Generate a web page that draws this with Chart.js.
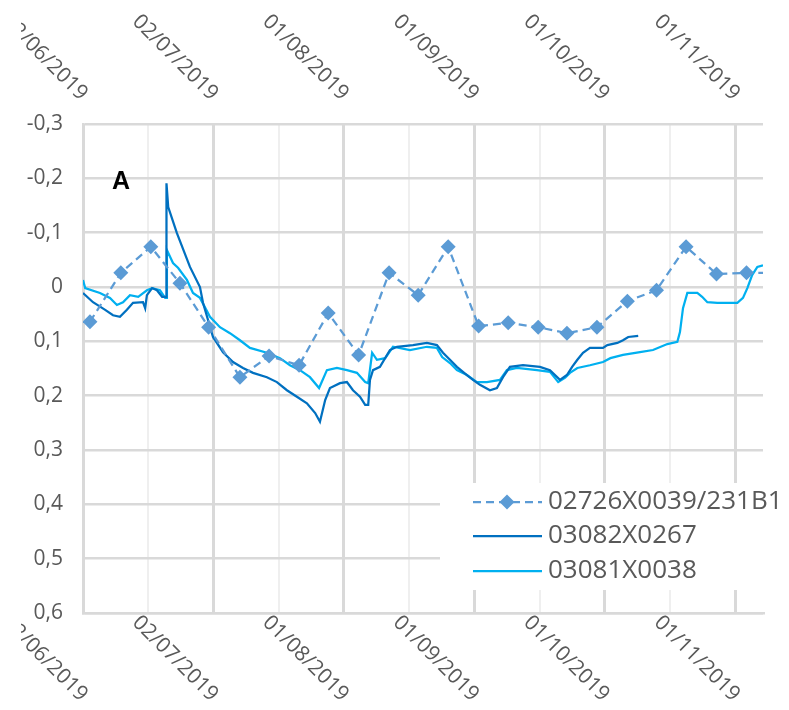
<!DOCTYPE html>
<html>
<head>
<meta charset="utf-8">
<script src="https://cdn.jsdelivr.net/npm/chart.js@4.4.1/dist/chart.umd.min.js"></script>
<style>
  html, body { margin: 0; padding: 0; background: #fff; }
  #wrap { width: 789px; height: 710px; position: relative; }
</style>
</head>
<body>
<div id="wrap"><canvas id="c"></canvas></div>
<script>
// x values are days counted from 02/06/2019
const xTickDays = [0, 30, 60, 90, 120, 150];
const xTickLabels = ['02/06/2019', '02/07/2019', '01/08/2019', '01/09/2019', '01/10/2019', '01/11/2019'];
const xGridDays = [0, 15, 30, 45, 60, 75, 90, 105, 120, 135, 150];
const xMaxDay = 156.4;
const yTicks = [-0.3, -0.2, -0.1, 0, 0.1, 0.2, 0.3, 0.4, 0.5, 0.6];

const seriesNames = ['02726X0039/231B1', '03082X0267', '03081X0038'];
const seriesColors = ['#5B9BD5', '#0070C0', '#00B0F0'];

// 02726X0039/231B1 — periodic manual readings
const w231Days = [1.6, 8.7, 15.6, 22.3, 28.9, 36.1, 42.8, 49.7, 56.4, 63.4, 70.4, 77.1,
  84.0, 91.0, 97.8, 104.7, 111.3, 118.2, 125.2, 131.9, 138.7, 145.7, 152.6, 159.5];
const w231Values = [0.064, -0.026, -0.074, -0.007, 0.074, 0.166, 0.127, 0.144, 0.048, 0.125, -0.026, 0.015,
  -0.074, 0.072, 0.066, 0.074, 0.085, 0.074, 0.026, 0.006, -0.074, -0.024, -0.026, -0.026];

// 03082X0267 — continuous record
const w0267Days = [0, 2.3, 5.1, 6.9, 8.5, 10.1, 11.5, 13.8, 14.3, 14.7, 15.9, 17.0, 18.2, 19.1,
  19.2, 19.6, 21.6, 24.6, 26.9, 27.6, 29.9, 32.2, 34.5, 36.8, 39.1, 42.3, 44.6, 46.9, 49.2,
  51.5, 53.4, 54.5, 55.7, 56.8, 59.1, 60.7, 62.1, 63.7, 64.9, 65.6, 66.0, 66.7, 68.3, 70.6,
  72.2, 75.9, 79.1, 81.4, 82.8, 84.4, 86.0, 88.3, 89.7, 91.3, 93.6, 95.2, 96.6, 98.2, 101.2,
  105.1, 107.4, 109.7, 111.3, 112.5, 113.7, 115.0, 116.6, 119.6, 120.6, 122.9, 124.2, 125.4, 127.7];
const w0267Values = [0.011, 0.028, 0.042, 0.052, 0.055, 0.042, 0.029, 0.028, 0.039, 0.015, 0.002, 0.006, 0.018, 0.018,
  -0.191, -0.147, -0.099, -0.037, 0.000, 0.029, 0.092, 0.120, 0.138, 0.149, 0.158, 0.166, 0.175, 0.190, 0.202,
  0.214, 0.232, 0.248, 0.208, 0.186, 0.177, 0.175, 0.190, 0.202, 0.217, 0.217, 0.171, 0.153, 0.147, 0.116,
  0.110, 0.107, 0.103, 0.107, 0.121, 0.134, 0.147, 0.162, 0.171, 0.180, 0.190, 0.186, 0.166, 0.147, 0.144,
  0.147, 0.153, 0.171, 0.162, 0.147, 0.134, 0.121, 0.112, 0.112, 0.107, 0.103, 0.098, 0.092, 0.090];

// 03081X0038 — continuous record
const w0038Days = [0, 0.5, 3.9, 6.2, 7.8, 9.2, 10.8, 12.7, 14.7, 15.9, 17.7, 18.9, 19.2, 19.3,
  20.7, 21.9, 23.9, 25.3, 26.9, 29.2, 31.5, 33.8, 36.1, 38.4, 42.3, 45.3, 47.6, 49.9, 52.2,
  54.3, 56.1, 58.4, 60.7, 63.0, 64.9, 65.6, 66.5, 67.6, 69.5, 71.3, 75.2, 79.1, 81.4, 82.6,
  84.4, 86.0, 88.3, 90.6, 92.9, 95.9, 97.5, 99.8, 104.4, 107.4, 109.3, 110.9, 112.0, 113.7,
  116.6, 119.6, 121.3, 124.2, 128.1, 131.1, 134.4, 136.7, 137.3, 138.0, 139.0, 141.3, 142.4,
  143.6, 145.9, 150.5, 151.8, 152.8, 153.9, 155.1, 156.4];
const w0038Values = [-0.013, 0.002, 0.011, 0.020, 0.033, 0.028, 0.015, 0.018, 0.006, 0.002, 0.006, 0.020, 0.020, -0.068,
  -0.044, -0.035, -0.013, 0.011, 0.020, 0.055, 0.074, 0.085, 0.098, 0.112, 0.121, 0.131, 0.144, 0.153, 0.166,
  0.186, 0.153, 0.149, 0.153, 0.158, 0.175, 0.177, 0.121, 0.134, 0.131, 0.110, 0.116, 0.110, 0.112, 0.129,
  0.140, 0.153, 0.162, 0.175, 0.175, 0.171, 0.153, 0.149, 0.153, 0.156, 0.175, 0.167, 0.158, 0.149,
  0.144, 0.138, 0.131, 0.125, 0.120, 0.116, 0.105, 0.101, 0.083, 0.039, 0.011, 0.011, 0.018,
  0.028, 0.029, 0.029, 0.020, 0.002, -0.022, -0.037, -0.040];

const toPoints = (days, values) => days.map((d, i) => ({ x: d, y: values[i] }));

const TEXT_GREY = '#595959';
const GRID = '#D9D9D9';

// Rotated date labels on both edges, the panel letter and the legend box
const decorations = {
  id: 'decorations',
  afterDraw(chart) {
    const { ctx, chartArea, scales } = chart;
    const x = scales.x;

    ctx.save();
    ctx.beginPath();
    ctx.rect(21, 0, chart.width, chart.height);
    ctx.clip();
    ctx.font = '21px "Open Sans"';
    ctx.fillStyle = TEXT_GREY;
    ctx.textAlign = 'right';
    ctx.textBaseline = 'middle';
    xTickDays.forEach((d, i) => {
      const px = x.getPixelForValue(d);
      [chartArea.top - 27, chartArea.bottom + 85].forEach(py => {
        ctx.save();
        ctx.translate(px + 1, py);
        ctx.rotate(Math.PI / 4);
        ctx.fillText(xTickLabels[i], 0, 0);
        ctx.restore();
      });
    });
    ctx.restore();

    ctx.save();
    ctx.font = 'bold 25px "Liberation Sans"';
    ctx.fillStyle = '#000';
    ctx.textAlign = 'left';
    ctx.textBaseline = 'alphabetic';
    ctx.fillText('A', 112, 189);
    ctx.restore();

    // legend
    ctx.save();
    ctx.fillStyle = '#fff';
    ctx.fillRect(440, 483, chart.width - 440, 107);
    const rows = [502, 536, 571];
    chart.data.datasets.forEach((ds, i) => {
      const y = rows[i];
      ctx.strokeStyle = ds.borderColor;
      ctx.lineWidth = ds.borderWidth;
      ctx.setLineDash(ds.borderDash || []);
      ctx.beginPath();
      ctx.moveTo(473, y);
      ctx.lineTo(542, y);
      ctx.stroke();
      ctx.setLineDash([]);
      if (ds.pointRadius > 0) {
        ctx.fillStyle = ds.pointBackgroundColor;
        ctx.beginPath();
        ctx.moveTo(507 - 7.5, y);
        ctx.lineTo(507, y - 7.5);
        ctx.lineTo(507 + 7.5, y);
        ctx.lineTo(507, y + 7.5);
        ctx.closePath();
        ctx.fill();
      }
      ctx.font = '26px "Open Sans"';
      ctx.fillStyle = TEXT_GREY;
      ctx.textAlign = 'left';
      ctx.textBaseline = 'middle';
      ctx.fillText(ds.label, 548, y);
    });
    ctx.restore();
  }
};

new Chart(document.getElementById('c'), {
  type: 'line',
  data: {
    datasets: [
      {
        label: seriesNames[0],
        data: toPoints(w231Days, w231Values),
        borderColor: seriesColors[0],
        borderWidth: 2.25,
        borderDash: [8, 5],
        pointStyle: 'rectRot',
        pointRadius: 7.5,
        pointBackgroundColor: seriesColors[0],
        pointBorderColor: seriesColors[0],
        pointBorderWidth: 0,
        tension: 0
      },
      {
        label: seriesNames[1],
        data: toPoints(w0267Days, w0267Values),
        borderColor: seriesColors[1],
        borderWidth: 2.25,
        pointRadius: 0,
        tension: 0
      },
      {
        label: seriesNames[2],
        data: toPoints(w0038Days, w0038Values),
        borderColor: seriesColors[2],
        borderWidth: 2.25,
        pointRadius: 0,
        tension: 0
      }
    ]
  },
  options: {
    responsive: true,
    maintainAspectRatio: false,
    animation: false,
    devicePixelRatio: 1,
    layout: { padding: { top: 124, right: 26, bottom: 0, left: 0 } },
    plugins: { legend: { display: false }, tooltip: { enabled: false } },
    scales: {
      x: {
        type: 'linear',
        min: 0,
        max: xMaxDay,
        afterBuildTicks: s => { s.ticks = xGridDays.map(v => ({ value: v })); },
        afterFit: s => { s.height = 97; },
        ticks: { display: false },
        grid: {
          drawTicks: false,
          color: c => (c.tick && c.tick.value % 30 === 0) ? GRID : '#EFEFEF',
          lineWidth: c => (c.tick && c.tick.value % 30 === 0) ? 3 : 2
        },
        border: { color: GRID, width: 2.5 }
      },
      y: {
        reverse: true,
        min: -0.3,
        max: 0.6,
        afterBuildTicks: s => { s.ticks = yTicks.map(v => ({ value: v })); },
        afterFit: s => { s.width = 83; },
        ticks: {
          padding: 20,
          color: TEXT_GREY,
          font: { family: 'Open Sans', size: 21 },
          callback: v => v === 0 ? '0' : v.toFixed(1).replace('.', ',')
        },
        grid: { drawTicks: false, color: GRID, lineWidth: 2.5 },
        border: { color: GRID, width: 2.5 }
      }
    }
  },
  plugins: [decorations]
});
</script>
</body>
</html>
